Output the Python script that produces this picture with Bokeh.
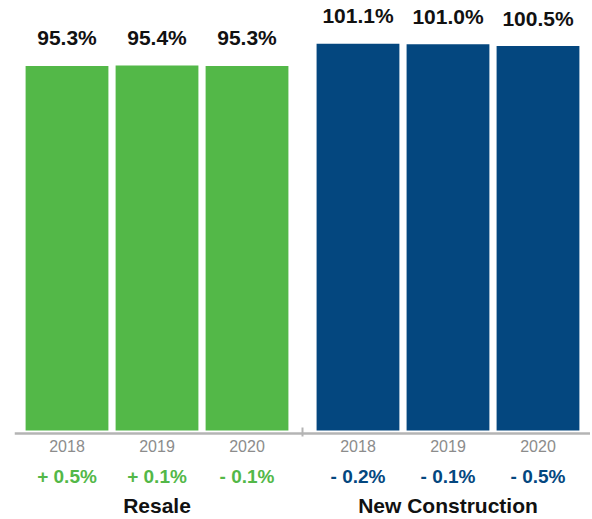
from bokeh.plotting import figure
from bokeh.models import FactorRange, Range1d, ColumnDataSource
from bokeh.core.properties import value
from bokeh.embed import file_html
from bokeh.resources import INLINE

# ---- data ----
groups = ["Resale", "New Construction"]
years = ["2018", "2019", "2020"]
resale_values = [95.3, 95.4, 95.3]
new_values = [101.1, 101.0, 100.5]
resale_changes = ["+ 0.5%", "+ 0.1%", "- 0.1%"]
new_changes = ["- 0.2%", "- 0.1%", "- 0.5%"]

GREEN = "#53b848"
BLUE = "#04477f"
FONT = value("Liberation Sans")

# ---- layout constants ----
W, H = 590, 517
PX = 3.825          # pixels per percentage point
BASE = 430          # baseline pixel row inside the figure

factors = [(g, y) for g in groups for y in years]
values = resale_values + new_values
changes = resale_changes + new_changes
colors = [GREEN] * 3 + [BLUE] * 3

src = ColumnDataSource(dict(
    x=factors, top=values, color=colors,
    label=[f"{v:.1f}%" for v in values],
    change=changes, year=[f[1] for f in factors],
))
gsrc = ColumnDataSource(dict(x=groups, name=groups))

xr = FactorRange(*factors, factor_padding=0.0, group_padding=0.233,
                 range_padding=0.0833, range_padding_units="absolute")
yr = Range1d(-(H - BASE) / PX, BASE / PX)

p = figure(width=W, height=H, x_range=xr, y_range=yr,
           output_backend="svg", toolbar_location=None,
           min_border_left=14, min_border_right=0,
           min_border_top=0, min_border_bottom=0)
p.outline_line_color = None
p.grid.visible = False
p.yaxis.visible = False
p.background_fill_color = "white"

p.vbar(x="x", top="top", bottom=0, width=0.92, color="color", source=src,
       line_color=None)

# value labels above bars
p.text(x="x", y="top", text="label", source=src, text_font=FONT,
       text_font_style="bold", text_font_size="21px", text_color="#111111",
       text_align="center", text_baseline="middle", y_offset=-28)

# year labels
p.text(x="x", y=0, text="year", source=src, text_font=FONT,
       text_font_size="16px", text_color="#8c8c8c",
       text_align="center", text_baseline="middle", y_offset=15)

# change labels
p.text(x="x", y=0, text="change", source=src, text_font=FONT,
       text_font_style="bold", text_font_size="19px", text_color="color",
       text_align="center", text_baseline="middle", y_offset=46)

# group labels
p.text(x="x", y=0, text="name", source=gsrc, text_font=FONT,
       text_font_style="bold", text_font_size="21px", text_color="#111111",
       text_align="center", text_baseline="middle", y_offset=75)

ax = p.xaxis[0]
ax.fixed_location = -3 / PX
ax.axis_line_color = "#b4b4b4"
ax.axis_line_width = 2.5
ax.major_tick_line_color = None
ax.minor_tick_line_color = None
ax.major_label_text_color = None
ax.group_text_color = None
ax.separator_line_color = "#b4b4b4"
ax.separator_line_width = 2

open("out.html", "w").write(file_html(p, INLINE))
